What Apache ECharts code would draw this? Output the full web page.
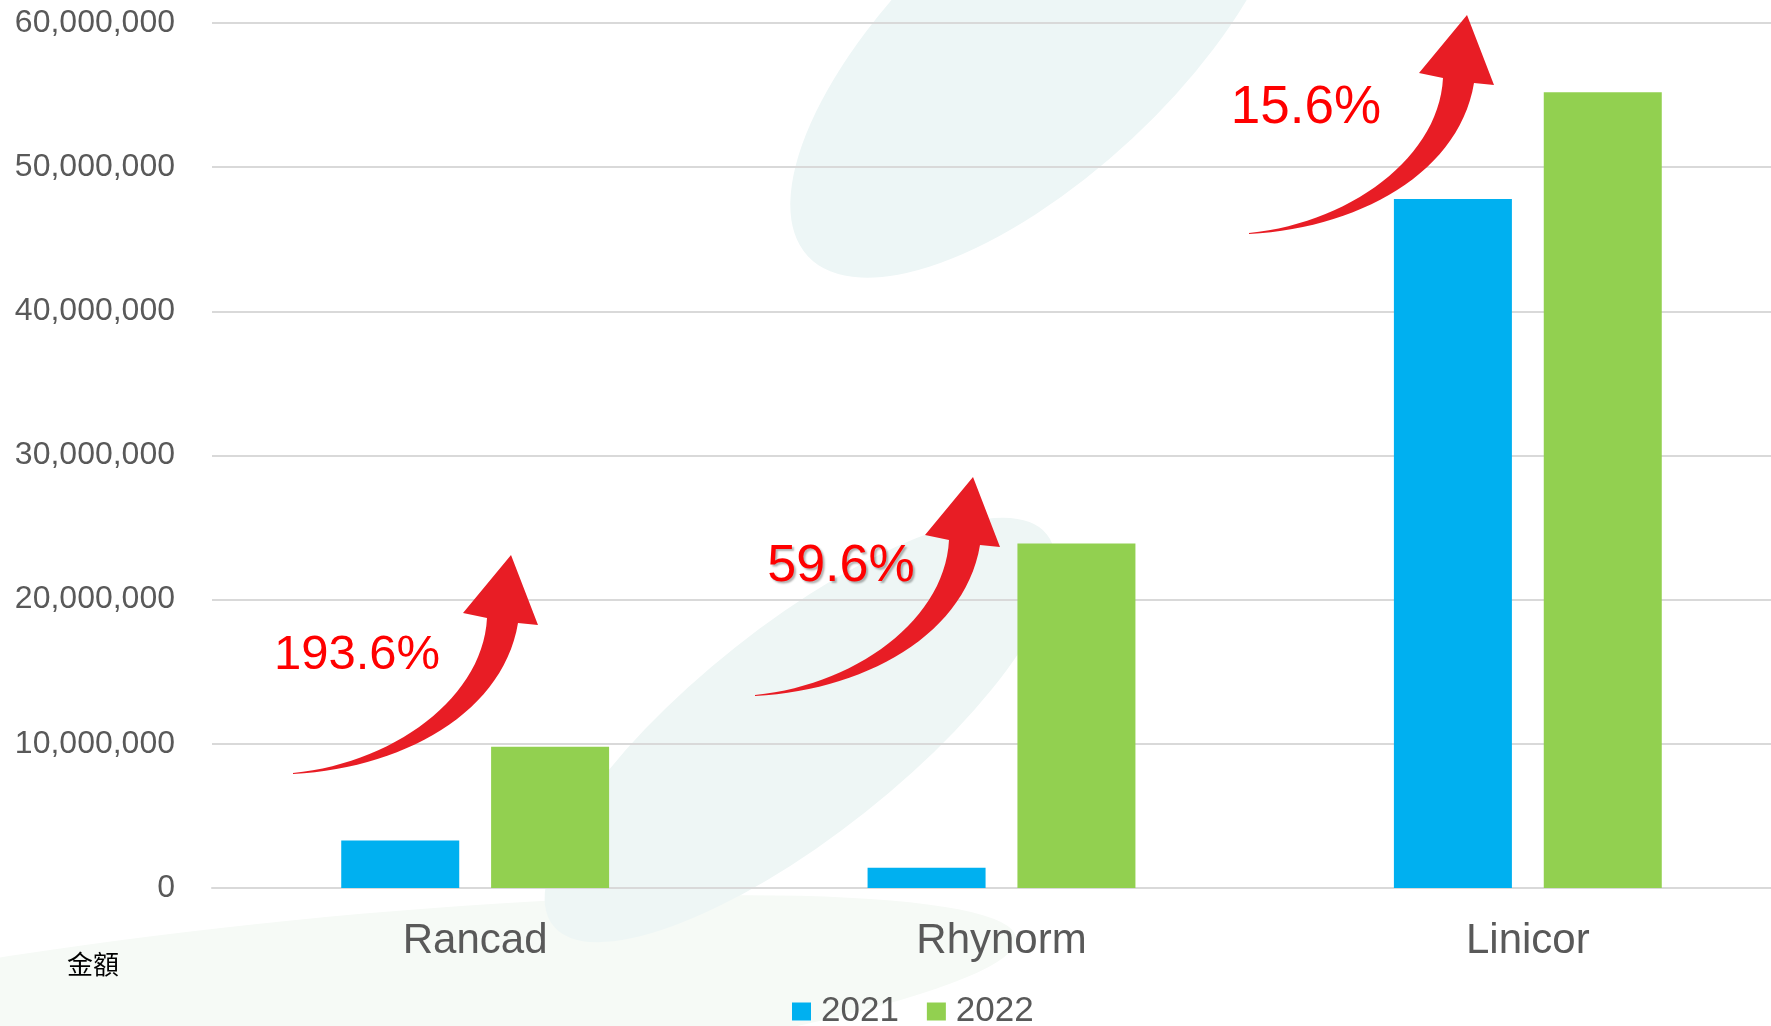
<!DOCTYPE html>
<html>
<head>
<meta charset="utf-8">
<script src="https://cdn.jsdelivr.net/npm/echarts@6/dist/echarts.min.js"></script>
<style>
    html, body {margin: 0; padding: 0; background: #fff; overflow: hidden;}
    /* 图表略宽于窗口, 最右侧类目区域被裁掉一部分 */
    #SalesCompare {width: 1791px; height: 1026px;}
</style>
</head>
<body>
<div id="SalesCompare"></div>
<script>
// 数据
var categories = ['Rancad', 'Rhynorm', 'Linicor'];
var sales2021 = [3300000, 1400000, 47800000];
var sales2022 = [9800000, 23900000, 55200000];
var growthLabels = ['193.6%', '59.6%', '15.6%'];
var seriesNames = ['2021', '2022'];

var FONT = '"Liberation Sans", Arial, sans-serif';
var RED = '#E81D25';

// 箭头位置 (tail point) 与 百分比文字位置
var arrowTails = [[293, 773], [755, 695], [1249, 233]];
var labelPos = [[357, 655, 49], [841, 567, 52], [1306, 108, 53]];

function addCommas(v) {
    return String(v).replace(/\B(?=(\d{3})+(?!\d))/g, ',');
}

// 三次贝塞尔采样
function bez(p0, p1, p2, p3, n) {
    var pts = [];
    for (var k = 0; k <= n; k++) {
        var t = k / n, u = 1 - t;
        pts.push([
            u * u * u * p0[0] + 3 * u * u * t * p1[0] + 3 * u * t * t * p2[0] + t * t * t * p3[0],
            u * u * u * p0[1] + 3 * u * u * t * p1[1] + 3 * u * t * t * p2[1] + t * t * t * p3[1]
        ]);
    }
    return pts;
}

/**
 * 弯曲箭头 (相对 tail 的多边形)
 */
function arrowShape() {
    var upper = bez([0, 0], [100, -10], [190, -75], [194, -155], 30);
    var head = [[170, -160], [218, -218], [245, -148]];
    var lower = bez([225, -150], [210, -60], [110, -5], [0, 1], 30);
    return upper.concat(head, lower);
}

var graphics = [
    // 背景装饰
    {type: 'circle', x: 1040, y: 40, rotation: 0.75, scaleX: 2.35, scaleY: 1, z: -10,
        shape: {cx: 0, cy: 0, r: 135}, style: {fill: '#EDF6F6'}, silent: true},
    {type: 'circle', x: 800, y: 730, rotation: 0.67, scaleX: 3.0, scaleY: 1, z: -10,
        shape: {cx: 0, cy: 0, r: 105}, style: {fill: '#EEF6F5'}, silent: true},
    {type: 'circle', x: 300, y: 1010, rotation: 0.1, scaleX: 8, scaleY: 1, z: -11,
        shape: {cx: 0, cy: 0, r: 90}, style: {fill: '#F6FAF6'}, silent: true},
    {type: 'text', x: 67, y: 964, z: 50,
        style: {text: '金額', fill: '#000', verticalAlign: 'middle', font: '26px "Noto Sans CJK TC", sans-serif'}}
];

var shape = arrowShape();
for (var i = 0; i < arrowTails.length; i++) {
    graphics.push({
        type: 'polygon', x: arrowTails[i][0], y: arrowTails[i][1], z: 100,
        shape: {points: shape}, style: {fill: RED}
    });
    graphics.push({
        type: 'text', x: labelPos[i][0], y: labelPos[i][1], z: 101,
        style: {
            text: growthLabels[i], fill: '#FF0000', align: 'center', verticalAlign: 'middle',
            font: labelPos[i][2] + 'px ' + FONT,
            // 59.6% 带一点阴影
            textShadowColor: i == 1 ? 'rgba(0,0,0,0.3)' : 'transparent',
            textShadowOffsetX: 2,
            textShadowOffsetY: 2,
            textShadowBlur: 2
        }
    });
}

var chart = echarts.init(document.getElementById('SalesCompare'));
chart.setOption({
    animation: false,
    color: ['#00B0F0', '#92D050'],
    textStyle: {fontFamily: FONT},
    grid: {
        left: 212,
        top: 23,
        right: 0,
        bottom: 138,
        containLabel: false
    },
    legend: {
        data: seriesNames,
        left: 787,
        top: 989,
        icon: 'rect',
        itemWidth: 19,
        itemHeight: 18,
        itemGap: 28,
        textStyle: {fontSize: 35, color: '#595959', fontFamily: FONT, padding: [0, 0, 0, 5]}
    },
    xAxis: {
        type: 'category',
        data: categories,
        axisTick: {show: false},
        axisLine: {lineStyle: {color: '#D9D9D9', width: 2}},
        axisLabel: {fontSize: 42, color: '#595959', margin: 32, fontFamily: FONT}
    },
    yAxis: {
        type: 'value',
        min: 0,
        max: 60000000,
        interval: 10000000,
        axisLine: {show: false},
        axisTick: {show: false},
        splitLine: {lineStyle: {color: '#D9D9D9', width: 2}},
        axisLabel: {
            fontSize: 32, color: '#595959', margin: 37, fontFamily: FONT,
            padding: [4, 0, 0, 0],
            formatter: function (v) { return addCommas(v); }
        }
    },
    series: [
        {
            name: seriesNames[0],
            type: 'bar',
            barWidth: 118,
            barGap: '27%',
            data: sales2021
        },
        {
            name: seriesNames[1],
            type: 'bar',
            barWidth: 118,
            barGap: '27%',
            data: sales2022
        }
    ],
    graphic: graphics
});

window.onresize = function () {
    chart.resize();
};
</script>
</body>
</html>
